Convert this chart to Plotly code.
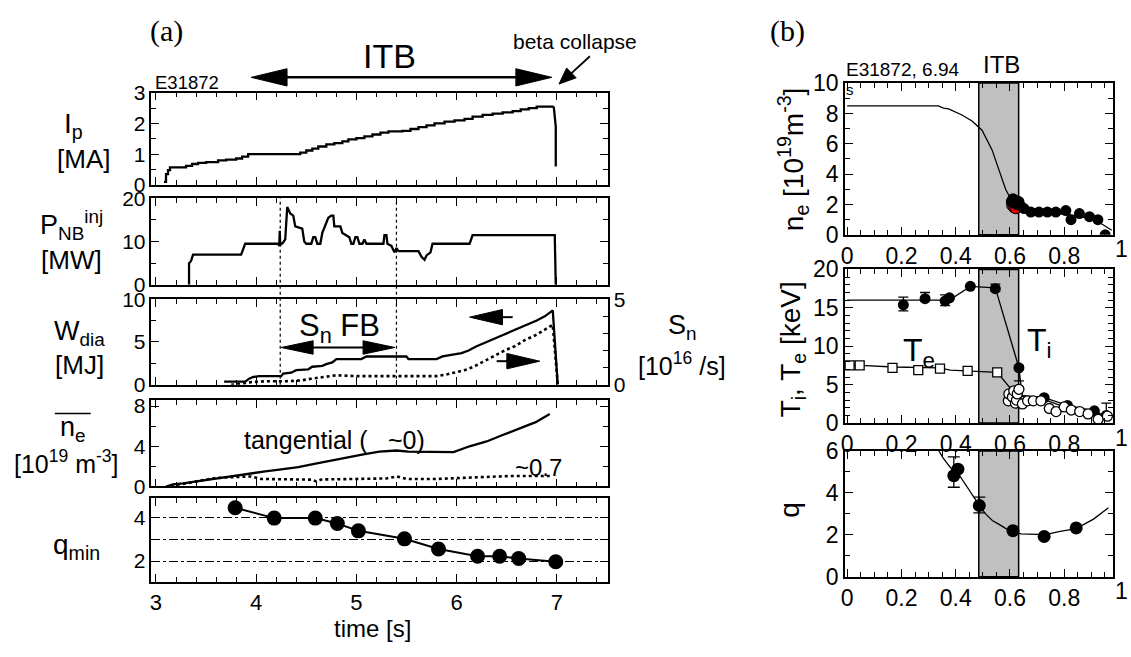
import plotly.graph_objects as go

W, H = 1131, 657
FONT = "Liberation Sans, Arial, sans-serif"
SERIF = "Liberation Serif, Times New Roman, serif"

# ---------------- (a) E31872 time evolution ----------------
ip_t = [3.08, 3.10, 3.12, 3.14, 3.30, 3.36, 3.42, 3.50, 3.62, 3.70, 3.80, 3.86,
        3.92, 4.44, 4.50, 4.56, 4.62, 4.70, 4.78, 4.86, 4.92, 5.00, 5.08, 5.16,
        5.24, 5.32, 5.46, 5.54, 5.62, 5.70, 5.78, 5.88, 5.98, 6.08, 6.16, 6.26,
        6.36, 6.46, 6.56, 6.64, 6.72, 6.80, 6.97]
ip_v = [0.10, 0.35, 0.48, 0.57, 0.62, 0.68, 0.72, 0.74, 0.80, 0.82, 0.86, 0.92,
        1.00, 1.05, 1.12, 1.18, 1.25, 1.32, 1.36, 1.42, 1.48, 1.52, 1.58, 1.64,
        1.70, 1.74, 1.76, 1.82, 1.88, 1.94, 2.00, 2.06, 2.10, 2.15, 2.22, 2.28,
        2.32, 2.36, 2.40, 2.46, 2.50, 2.55, 2.55]
ip_collapse_t = [6.97, 6.99, 6.99]
ip_collapse_v = [2.55, 1.90, 0.60]

pnb_t = [3.33, 3.33, 3.35, 3.37, 3.85, 3.87, 3.89, 4.22, 4.23, 4.235, 4.24, 4.27,
         4.29, 4.31, 4.34, 4.37, 4.39, 4.46, 4.48, 4.50, 4.55, 4.57, 4.59, 4.61,
         4.64, 4.66, 4.69, 4.72, 4.75, 4.77, 4.78, 4.84, 4.86, 4.90, 4.93, 4.95,
         4.97, 4.99, 5.01, 5.03, 5.06, 5.08, 5.10, 5.27, 5.28, 5.30, 5.31, 5.35,
         5.37, 5.38, 5.40, 5.42, 5.62, 5.65, 5.68, 5.70, 5.74, 5.76, 6.13, 6.16,
         6.98, 6.99]
pnb_v = [0.0, 5.0, 5.5, 7.0, 7.0, 8.5, 9.5, 9.5, 9.0, 12.5, 9.2, 9.8,
         10.5, 18.0, 16.5, 16.0, 13.5, 13.0, 10.0, 9.5, 9.5, 11.0, 11.0, 9.5,
         9.5, 12.0, 14.0, 15.5, 16.0, 16.0, 13.5, 13.5, 12.0, 11.5, 11.0, 9.5,
         9.5, 11.0, 11.0, 9.5, 9.5, 10.5, 9.5, 9.5, 11.5, 11.5, 9.5, 9.0,
         8.0, 7.5, 8.5, 7.8, 7.8, 6.5, 5.8, 6.8, 7.5, 9.5, 9.5, 11.5,
         11.5, 0.0]

wdia_t = [3.68, 3.89, 3.93, 3.97, 4.03, 4.25, 4.27, 4.35, 4.40, 4.52, 4.56, 4.66,
          4.70, 4.76, 4.80, 5.05, 5.10, 5.50, 5.52, 5.80, 5.86, 5.97, 6.05, 6.12,
          6.20, 6.30, 6.40, 6.50, 6.60, 6.70, 6.80, 6.88, 6.94, 6.96, 7.01]
wdia_v = [0.35, 0.35, 0.70, 0.90, 1.00, 1.00, 1.30, 1.40, 1.70, 1.80, 2.10, 2.20,
          2.40, 2.60, 3.00, 3.00, 3.30, 3.30, 3.00, 3.00, 3.30, 3.50, 3.70, 4.00,
          4.50, 5.00, 5.50, 6.00, 6.50, 7.00, 7.50, 8.00, 8.50, 8.70, 0.00]

sn_t = [3.75, 3.85, 3.95, 4.10, 4.30, 4.45, 4.55, 4.70, 4.80, 5.00, 5.30, 5.60,
        5.80, 5.90, 5.97, 6.08, 6.17, 6.28, 6.38, 6.48, 6.58, 6.68, 6.79, 6.88,
        6.95, 6.96, 7.01]
sn_v = [0.00, 0.05, 0.15, 0.20, 0.20, 0.25, 0.35, 0.45, 0.55, 0.50, 0.50, 0.50,
        0.50, 0.60, 0.70, 0.85, 1.05, 1.40, 1.70, 2.00, 2.25, 2.60, 2.90, 3.20,
        3.45, 3.50, 0.00]

ne_tan_t = [3.10, 3.17, 3.27, 3.44, 3.60, 3.76, 3.93, 4.09, 4.25, 4.42, 4.58, 4.74,
            4.91, 5.07, 5.23, 5.40, 5.52, 5.77, 5.97, 6.13, 6.30, 6.46, 6.62, 6.79,
            6.93]
ne_tan_v = [0.00, 0.22, 0.32, 0.58, 0.80, 1.02, 1.28, 1.50, 1.70, 1.92, 2.24, 2.56,
            2.88, 3.20, 3.46, 3.58, 3.46, 3.42, 3.42, 4.00, 4.48, 5.12, 5.76, 6.40,
            7.20]
ne_07_t = [3.15, 3.30, 3.45, 3.60, 3.80, 3.95, 4.05, 4.30, 4.55, 4.60, 4.65, 5.00,
           5.30, 5.40, 5.50, 5.80, 6.10, 6.30, 6.55, 6.95]
ne_07_v = [0.10, 0.30, 0.60, 0.85, 0.95, 1.00, 0.75, 0.70, 0.68, 0.50, 0.70, 0.75,
           0.80, 1.00, 0.75, 0.75, 0.85, 0.95, 1.05, 1.05]

qmin_t = [3.79, 4.18, 4.59, 4.81, 5.02, 5.48, 5.82, 6.21, 6.43, 6.62, 6.99]
qmin_v = [4.47, 3.99, 3.99, 3.74, 3.40, 3.03, 2.56, 2.22, 2.22, 2.12, 1.97]

sn_fb_window = [4.24, 5.40]
time_ticks = [3, 4, 5, 6, 7]

# ---------------- (b) profiles at t = 6.94 s ----------------
itb_rho = [0.485, 0.632]

ne_fit_r = [0.0, 0.336, 0.355, 0.374, 0.423, 0.46, 0.497, 0.534, 0.559, 0.584,
            0.602, 0.62, 0.65, 0.68, 0.75, 0.80, 0.85, 0.90, 0.94, 0.975]
ne_fit_v = [8.5, 8.5, 8.35, 8.3, 7.9, 7.5, 6.9, 5.6, 4.3, 3.0,
            2.4, 2.1, 1.7, 1.5, 1.45, 1.35, 1.25, 1.05, 0.7, 0.3]
ne_red_r = [0.608, 0.615, 0.622]
ne_red_v = [1.95, 1.80, 1.75]
ne_r = [0.605, 0.611, 0.616, 0.621, 0.627, 0.633, 0.640, 0.652, 0.677, 0.707,
        0.738, 0.769, 0.806, 0.825, 0.856, 0.893, 0.924, 0.951]
ne_v = [2.20, 2.38, 2.10, 2.27, 2.00, 2.19, 1.90, 1.73, 1.50, 1.50,
        1.50, 1.50, 1.60, 1.00, 1.40, 1.20, 1.00, 0.00]

ti_fit_r = [0.0, 0.377, 0.454, 0.546, 0.633, 0.645, 0.726, 0.812, 0.911, 0.97]
ti_fit_v = [16.0, 16.0, 17.8, 17.6, 7.2, 3.6, 3.3, 2.3, 1.6, 0.6]
ti_r = [0.207, 0.287, 0.361, 0.377, 0.454, 0.546, 0.633, 0.726, 0.812, 0.911, 0.955]
ti_v = [15.4, 16.2, 15.9, 16.3, 17.8, 17.5, 7.2, 3.3, 2.3, 1.6, 1.0]
ti_err_up = [1.0, 0.8, 0.8, 0.0, 0.0, 0.6, 0.3, 0.0, 0.0, 0.0, 1.6]
ti_err_dn = [0.8, 0.3, 0.6, 0.0, 0.0, 0.3, 1.7, 0.0, 0.0, 0.0, 0.0]

te_fit_r = [0.0, 0.05, 0.17, 0.26, 0.34, 0.38, 0.444, 0.553, 0.60, 0.64, 0.70,
            0.74, 0.80, 0.86, 0.93, 0.97]
te_fit_v = [7.5, 7.5, 7.3, 7.2, 7.2, 6.9, 6.8, 6.6, 4.6, 3.5, 3.0,
            2.9, 2.1, 1.6, 1.0, 0.7]
te_r = [0.009, 0.046, 0.167, 0.262, 0.342, 0.444, 0.553]
te_v = [7.5, 7.5, 7.2, 6.9, 7.1, 6.8, 6.6]
te2_r = [0.594, 0.596, 0.609, 0.614, 0.620, 0.624, 0.627, 0.633, 0.646, 0.665,
         0.686, 0.714, 0.745, 0.770, 0.800, 0.826, 0.857, 0.888, 0.925, 0.959]
te2_v = [2.9, 3.8, 3.4, 4.2, 2.6, 3.0, 3.8, 4.4, 2.5, 2.9,
         2.9, 2.9, 1.9, 1.5, 2.1, 1.7, 1.5, 1.2, 0.5, 0.9]

q_fit_r = [0.338, 0.354, 0.375, 0.393, 0.408, 0.426, 0.45, 0.487, 0.51, 0.535,
           0.56, 0.585, 0.611, 0.64, 0.70, 0.726, 0.785, 0.844, 0.908, 0.963]
q_fit_v = [6.0, 5.66, 5.3, 5.0, 4.95, 4.59, 4.13, 3.4, 3.0, 2.68,
           2.5, 2.3, 2.17, 2.05, 2.02, 2.0, 2.17, 2.3, 2.75, 3.29]
q_r = [0.393, 0.408, 0.487, 0.611, 0.726, 0.844]
q_v = [4.82, 5.13, 3.40, 2.20, 1.92, 2.33]
q_err_up = [0.90, 0.0, 0.40, 0.0, 0.0, 0.0]
q_err_dn = [0.55, 0.0, 0.35, 0.0, 0.0, 0.0]

rho_ticks = [0, 0.2, 0.4, 0.6, 0.8]

# ---------------- geometry (pixels) ----------------
LEFT_X = (148, 606)
RIGHT_X = (844, 1113)
P_IP, P_PNB, P_W, P_NE, P_Q = (83, 179), (193, 283), (298, 387), (403, 493), (505, 592)
R_NE, R_T, R_Q = (73, 231), (267, 427), (456, 587)
T_RANGE = [2.955, 7.51]
R_RANGE = [-0.008, 0.98]
TICK_LEFT = 21
TICK_RIGHT = 23
LAB_SIZE = 26


def xdom(px):
    return [px[0] / W, px[1] / W]


def ydom(py):
    return [1 - py[1] / H, 1 - py[0] / H]


def tpx(t):
    return LEFT_X[0] + (t - T_RANGE[0]) / (T_RANGE[1] - T_RANGE[0]) * (LEFT_X[1] - LEFT_X[0])


def vpx(panel, rng, v):
    top, bot = panel
    return bot - (v - rng[0]) / (rng[1] - rng[0]) * (bot - top)


def axis(size, **kw):
    d = dict(showline=True, linecolor="black", linewidth=1.5, mirror="ticks",
             ticks="inside", ticklen=8, tickwidth=1.2, tickcolor="black",
             showgrid=False, zeroline=False,
             tickfont=dict(family=FONT, size=size, color="black"))
    d.update(kw)
    return d


def minor(dt, ln=5):
    return dict(dtick=dt, ticklen=ln, tickwidth=1, tickcolor="black", ticks="inside", showgrid=False)


fig = go.Figure()
BLK = "black"


def line_tr(x, y, xa, ya, width=1.8, dash=None, shape="linear"):
    fig.add_trace(go.Scatter(x=x, y=y, mode="lines", xaxis=xa, yaxis=ya, hoverinfo="skip",
                             line=dict(color=BLK, width=width, dash=dash, shape=shape)))


# (a) traces
line_tr(ip_t, ip_v, "x", "y", 2.3, shape="hv")
line_tr(ip_collapse_t, ip_collapse_v, "x", "y", 2.3)
line_tr(pnb_t, pnb_v, "x2", "y2", 2.3)
line_tr(wdia_t, wdia_v, "x3", "y3", 2.3)
line_tr(sn_t, sn_v, "x3", "y9", 2.6, dash="dot")
line_tr(ne_tan_t, ne_tan_v, "x4", "y4", 2.3)
line_tr(ne_07_t, ne_07_v, "x4", "y4", 2.6, dash="dot")
fig.add_trace(go.Scatter(x=qmin_t, y=qmin_v, mode="lines+markers", xaxis="x5", yaxis="y5",
                         line=dict(color=BLK, width=2), marker=dict(size=15, color=BLK),
                         hoverinfo="skip"))

# (b) traces
line_tr(ne_fit_r, ne_fit_v, "x6", "y6", 1.3)
fig.add_trace(go.Scatter(x=ne_red_r, y=ne_red_v, mode="markers", xaxis="x6", yaxis="y6",
                         marker=dict(size=11, color="#e00000", line=dict(color=BLK, width=1)),
                         hoverinfo="skip"))
fig.add_trace(go.Scatter(x=ne_r, y=ne_v, mode="markers", xaxis="x6", yaxis="y6",
                         marker=dict(size=11, color=BLK), hoverinfo="skip"))

line_tr(ti_fit_r, ti_fit_v, "x7", "y7", 1.3)
line_tr(te_fit_r, te_fit_v, "x7", "y7", 1.3)
fig.add_trace(go.Scatter(x=ti_r, y=ti_v, mode="markers", xaxis="x7", yaxis="y7",
                         marker=dict(size=11, color=BLK),
                         error_y=dict(type="data", array=ti_err_up, arrayminus=ti_err_dn,
                                      color=BLK, thickness=1.3, width=5),
                         hoverinfo="skip"))
fig.add_trace(go.Scatter(x=te_r, y=te_v, mode="markers", xaxis="x7", yaxis="y7",
                         marker=dict(size=9, symbol="square", color="white",
                                     line=dict(color=BLK, width=1.3)),
                         hoverinfo="skip"))
fig.add_trace(go.Scatter(x=te2_r, y=te2_v, mode="markers", xaxis="x7", yaxis="y7",
                         marker=dict(size=10, symbol="circle", color="white",
                                     line=dict(color=BLK, width=1.3)),
                         hoverinfo="skip"))

line_tr(q_fit_r, q_fit_v, "x8", "y8", 1.3)
fig.add_trace(go.Scatter(x=q_r, y=q_v, mode="markers", xaxis="x8", yaxis="y8",
                         marker=dict(size=13, color=BLK),
                         error_y=dict(type="data", array=q_err_up, arrayminus=q_err_dn,
                                      color=BLK, thickness=1.3, width=6),
                         hoverinfo="skip"))

# ---------------- axes ----------------
lay = {}
left_panels = [(P_IP, [0, 3], dict(tickvals=[0, 1, 2, 3]), minor(0.5)),
               (P_PNB, [0, 20], dict(tickvals=[0, 10, 20]), minor(5)),
               (P_W, [0, 10], dict(tickvals=[0, 5, 10]), minor(2.5)),
               (P_NE, [0, 8.6], dict(tickvals=[0, 4, 8]), minor(2)),
               (P_Q, [1.05, 4.92], dict(tickvals=[2, 3, 4], ticktext=["2", "", "4"]), None)]
for i, (pan, rng, tk, mn) in enumerate(left_panels, start=1):
    sx = "" if i == 1 else str(i)
    xa = axis(TICK_LEFT + 1, domain=xdom(LEFT_X), range=T_RANGE, anchor="y" + sx,
              tickvals=time_ticks, showticklabels=(i == 5), minor=minor(0.2))
    if i > 1:
        xa["matches"] = "x"
    ya = axis(TICK_LEFT, domain=ydom(pan), range=rng, anchor="x" + sx, **tk)
    if mn:
        ya["minor"] = mn
    if i == 3:
        ya["mirror"] = True
    if i == 5:
        ya.update(showgrid=True, gridcolor=BLK, gridwidth=1.1, griddash="dashdot")
    lay["xaxis" + sx] = xa
    lay["yaxis" + sx] = ya

lay["yaxis9"] = axis(TICK_LEFT, overlaying="y3", side="right", anchor="x3", range=[0, 5],
                     tickvals=[0, 5], minor=minor(1), mirror=False)

right_panels = [(6, R_NE, [0, 10], 2), (7, R_T, [0, 20], 5), (8, R_Q, [0, 6], 2)]
for i, pan, rng, dt in right_panels:
    lay["xaxis%d" % i] = axis(TICK_RIGHT, domain=xdom(RIGHT_X), range=R_RANGE, anchor="y%d" % i,
                              tickvals=rho_ticks, minor=minor(0.05))
    lay["yaxis%d" % i] = axis(TICK_RIGHT, domain=ydom(pan), range=rng, anchor="x%d" % i,
                              dtick=dt, tick0=0, minor=minor(1))

# ---------------- shapes and labels ----------------
shapes = []
ann = []


def tri(tip, back, length, half):
    (x0, y0), (x1, y1) = tip, back
    dx, dy = x1 - x0, y1 - y0
    n = (dx * dx + dy * dy) ** 0.5
    ux, uy = dx / n, dy / n
    bx, by = x0 + ux * length, y0 + uy * length
    nx, ny = -uy, ux
    pts = [(x0, y0), (bx + nx * half, by + ny * half), (bx - nx * half, by - ny * half)]
    path = "M " + " L ".join("%.5f,%.5f" % (x / W, 1 - y / H) for x, y in pts) + " Z"
    shapes.append(dict(type="path", path=path, xref="paper", yref="paper",
                       fillcolor=BLK, line=dict(color=BLK, width=1)))


def seg(p0, p1, width=2.0, dash=None):
    shapes.append(dict(type="line", xref="paper", yref="paper",
                       x0=p0[0] / W, y0=1 - p0[1] / H, x1=p1[0] / W, y1=1 - p1[1] / H,
                       line=dict(color=BLK, width=width, dash=dash)))


def double_arrow(xl, xr, y, length, half, width):
    seg((xl + length - 2, y), (xr - length + 2, y), width)
    tri((xl, y), (xr, y), length, half)
    tri((xr, y), (xl, y), length, half)


def label(text, x, y, size=LAB_SIZE, family=FONT, angle=0, xanchor="center"):
    ann.append(dict(text=text, x=x / W, y=1 - y / H, xref="paper", yref="paper",
                    showarrow=False, textangle=angle, xanchor=xanchor, yanchor="middle",
                    font=dict(family=family, size=size, color=BLK)))


def dlabel(text, x, y, xa, ya, size, xanchor="center"):
    ann.append(dict(text=text, x=x, y=y, xref=xa, yref=ya, showarrow=False, xanchor=xanchor,
                    font=dict(family=FONT, size=size, color=BLK)))


# ITB window arrow over the time traces
double_arrow(tpx(3.95), tpx(6.95), 67, 36, 9, 2.5)
# beta-collapse pointer
seg((588, 45), (566, 66), 1.8)
tri((557, 74), (588, 45), 17, 7)
# S_n feedback window arrow
yfb = vpx(P_W, [0, 10], 4.35)
double_arrow(tpx(4.25), tpx(5.385), yfb, 32, 7, 1.8)
# left / right axis pointers in the W_dia panel
yl = vpx(P_W, [0, 10], 7.9)
tri((tpx(6.13), yl), (tpx(6.6), yl), 33, 8)
seg((tpx(6.40), yl), (tpx(6.56), yl), 2)
yr = vpx(P_W, [0, 10], 2.75)
tri((tpx(6.83), yr), (tpx(6.3), yr), 33, 8)
seg((tpx(6.40), yr), (tpx(6.55), yr), 2)

# S_n feedback window, dotted time markers across two panels
for t in sn_fb_window:
    shapes.append(dict(type="line", xref="x2", yref="paper", x0=t, x1=t,
                       y0=1 - P_W[1] / H, y1=1 - P_PNB[0] / H,
                       line=dict(color=BLK, width=1.2, dash="dot")))

# overline of the line-averaged density symbol
seg((51, 417), (87, 417), 1.6)

# ITB region on the profiles
for i in (6, 7, 8):
    shapes.append(dict(type="rect", xref="x%d" % i, yref="y%d domain" % i,
                       x0=itb_rho[0], x1=itb_rho[1], y0=0, y1=1,
                       fillcolor="#c0c0c0", line=dict(color=BLK, width=1.5), layer="below"))

# text of (a)
label("(a)", 163, 19, 30, SERIF)
label("ITB", 387, 45, 34)
label("E31872", 150, 72, 18.5, xanchor="left")
label("beta collapse", 573, 30, 21)
label("I<sub>p</sub>", 70, 117, 28)
label("[MA]", 80, 152)
label("P<sub>NB</sub><sup>inj</sup>", 68, 221, 27)
label("[MW]", 68, 257)
label("W<sub>dia</sub>", 76, 333, 27)
label("[MJ]", 76, 367)
label("n<sub>e</sub>", 69, 433, 27)
label("[10<sup>19</sup> m<sup>-3</sup>]", 63, 467, 25)
label("q<sub>min</sub>", 73, 555, 28)
label("S<sub>n</sub>", 681, 327, 27)
label("[10<sup>16</sup> /s]", 680, 365, 25)
label("time [s]", 370, 641, 24)
dlabel("S<sub>n</sub> FB", 4.83, 6.6, "x3", "y3", 31)
dlabel("tangential (", 3.86, 4.64, "x4", "y4", 25, xanchor="left")
dlabel("~0)", 5.30, 4.64, "x4", "y4", 25, xanchor="left")
dlabel("~0.7", 6.82, 1.9, "x4", "y4", 24)

# text of (b)
label("(b)", 786, 19, 30, SERIF)
label("E31872, 6.94", 843, 59, 19, xanchor="left")
label("ITB", 1001, 54, 24)
label("s", 849, 80, 15)
label("n<sub>e</sub> [10<sup>19</sup>m<sup>-3</sup>]", 792, 152, 28, angle=-90)
label("T<sub>i</sub>, T<sub>e</sub> [keV]", 791, 350, 28, angle=-90)
label("q", 788, 517, 28, angle=-90)
label("T<sub>i</sub>", 1039, 343, 32)
label("T<sub>e</sub>", 918, 353, 32)
for yb in (R_NE[1], R_T[1], R_Q[1]):
    label("1", 1121, yb + 15, TICK_RIGHT)

lay.update(width=W, height=H, margin=dict(l=0, r=0, t=0, b=0), showlegend=False,
           plot_bgcolor="white", paper_bgcolor="white", shapes=shapes, annotations=ann,
           font=dict(family=FONT, color=BLK))
fig.update_layout(**lay)
fig.write_html("out.html")
